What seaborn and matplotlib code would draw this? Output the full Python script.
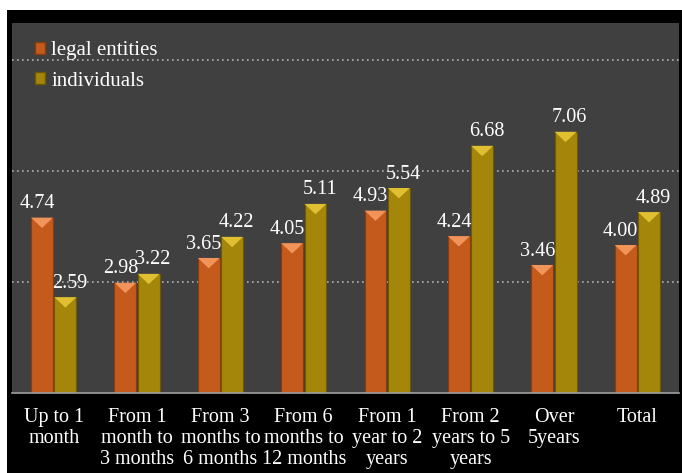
import matplotlib
matplotlib.use("Agg")
import matplotlib.pyplot as plt
import seaborn as sns
import pandas as pd
from matplotlib.patches import Polygon, Patch, Rectangle

categories = ["Up to 1\nmonth", "From 1\nmonth to\n3 months", "From 3\nmonths to\n6 months",
              "From 6\nmonths to\n12 months", "From 1\nyear to 2\nyears", "From 2\nyears to 5\nyears",
              "Over\n5years", "Total"]
legal_entities = [4.74, 2.98, 3.65, 4.05, 4.93, 4.24, 3.46, 4.00]
individuals = [2.59, 3.22, 4.22, 5.11, 5.54, 6.68, 7.06, 4.89]
series_names = ["legal entities", "individuals"]

df = pd.DataFrame({
    "category": categories * 2,
    "value": legal_entities + individuals,
    "series": [series_names[0]] * len(categories) + [series_names[1]] * len(categories),
})

colors = {"legal entities": "#C45A1C", "individuals": "#A4860A"}
tops = {"legal entities": "#F0945A", "individuals": "#E0C030"}
edges = {"legal entities": "#8A3C10", "individuals": "#6E5A05"}
label_shift = {"legal entities": -0.06, "individuals": 0.05}

sns.set_theme(style="white")
plt.rcParams["font.family"] = ["Liberation Serif", "DejaVu Serif"]

fig = plt.figure(figsize=(6.82, 4.73), dpi=100)
fig.patch.set_facecolor("white")
W, H = 682, 473
fig.add_artist(Rectangle((7 / W, 0), 1 - 7 / W, 1 - 10 / H, transform=fig.transFigure,
                         facecolor="black", edgecolor="none", zorder=0))
ax = fig.add_axes([12 / W, (H - 393) / H, (679 - 12) / W, (393 - 23) / H])
ax.set_facecolor("#404040")

sns.barplot(data=df, x="category", y="value", hue="series", palette=colors,
            width=0.56, gap=0.06, ax=ax, legend=False, saturation=1)

ax.set_ylim(0, 10)
ax.set_xlim(-0.5, len(categories) - 0.5)
for g in [3, 6, 9]:
    ax.axhline(g, color="#B0B0B0", linestyle=(0, (1, 2)), linewidth=1.2, zorder=0.5)

for container, name in zip(ax.containers, series_names):
    for bar, v in zip(container, df[df.series == name].value):
        bar.set_edgecolor(edges[name])
        bar.set_linewidth(0.8)
        x0 = bar.get_x(); w = bar.get_width(); top = bar.get_height()
        tri = Polygon([(x0, top), (x0 + w, top), (x0 + w / 2, top - 0.28)],
                      closed=True, facecolor=tops[name], edgecolor="none", zorder=3)
        ax.add_patch(tri)
        ax.text(x0 + w / 2 + label_shift[name], top + 0.12, f"{v:.2f}", ha="center",
                va="bottom", color="white", fontsize=14.5)

ax.set_xlabel("")
ax.set_ylabel("")
ax.set_yticks([])
ax.set_xticks([i - 0.5 for i in range(len(categories) + 1)], minor=False)
ax.set_xticklabels([])
ax.set_xticks(range(len(categories)), minor=True)
ax.set_xticklabels(categories, minor=True, color="white", fontsize=14.5, linespacing=1.12)
ax.tick_params(axis="x", which="major", length=5, color="#A0A0A0", width=1, direction="out")
ax.tick_params(axis="x", which="minor", length=0, pad=11)
for s in ["top", "left", "right"]:
    ax.spines[s].set_visible(False)
ax.spines["bottom"].set_color("#A0A0A0")
ax.spines["bottom"].set_linewidth(1.2)

handles = [Patch(facecolor=colors[n], edgecolor=edges[n]) for n in series_names]
leg = ax.legend(handles, series_names, loc="upper left", frameon=False,
                bbox_to_anchor=(0.012, 0.99), fontsize=15, handlelength=0.5, handleheight=0.5,
                handletextpad=0.3, labelspacing=0.55, borderaxespad=0.3)
for t in leg.get_texts():
    t.set_color("white")

fig.savefig("out.png", dpi=100, facecolor=fig.get_facecolor())
